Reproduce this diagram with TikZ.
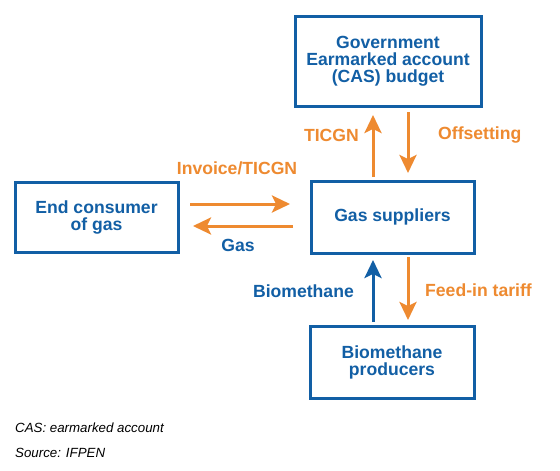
\documentclass[tikz,border=0pt]{standalone}
\usepackage{fontspec}
\setmainfont{Liberation Sans}
\usetikzlibrary{arrows.meta}
\definecolor{cblue}{RGB}{18,95,165}
\definecolor{corange}{RGB}{238,138,48}
\begin{document}
\begin{tikzpicture}[x=1pt,y=-1pt,
  box/.style={draw=cblue,line width=3pt,text=cblue,align=center,
    font=\fontsize{17.6}{17}\selectfont\bfseries,inner sep=0pt},
  lbl/.style={font=\fontsize{17.6}{18}\selectfont\bfseries,inner sep=0pt},
  olbl/.style={lbl,text=corange},
  blbl/.style={lbl,text=cblue},
  note/.style={font=\fontsize{13.3}{14}\selectfont\itshape,inner sep=0pt,anchor=west},
  tip/.style={-{Stealth[width=17pt,length=18pt,inset=4pt]}},
  oarr/.style={draw=corange,line width=3pt,tip},
  barr/.style={draw=cblue,line width=3pt,tip}]
\useasboundingbox[fill=white] (0,0) rectangle (560,471);

\node[box,minimum width=186pt,minimum height=90pt] (gov) at (388,61)
  {Government\\Earmarked account\\(CAS) budget};
\node[box,minimum width=163pt,minimum height=70pt] (cons) at (96.5,217)
  {End consumer\\of gas};
\node[box,minimum width=163pt,minimum height=72pt] (sup) at (392.5,217)
  {Gas suppliers};
\node[box,minimum width=164pt,minimum height=72pt] (bio) at (392,362)
  {Biomethane\\producers};

% horizontal arrows
\draw[oarr,shorten <=10.5pt,shorten >=19.5pt]
  ([yshift=13pt]cons.east) -- ([yshift=13pt]sup.west);
\draw[oarr,shorten <=16.5pt,shorten >=13.5pt]
  ([yshift=-9pt]sup.west) -- ([yshift=-9pt]cons.east);
% suppliers <-> government
\draw[oarr,shorten <=2.5pt,shorten >=7.5pt]
  ([xshift=-19.5pt]sup.north) -- ([xshift=-15pt]gov.south);
\draw[oarr,shorten <=4.5pt,shorten >=6.5pt]
  ([xshift=20pt]gov.south) -- ([xshift=15.5pt]sup.north);
% suppliers <-> producers
\draw[barr,shorten <=2.5pt,shorten >=5.5pt]
  ([xshift=-19pt]bio.north) -- ([xshift=-19.5pt]sup.south);
\draw[oarr,shorten <=2.5pt,shorten >=4.5pt]
  ([xshift=15.5pt]sup.south) -- ([xshift=16pt]bio.north);

\node[olbl] (inv) at (237,168) {Invoice/TICGN};
\node[blbl] (gaslbl) at (238,245) {Gas};
\node[olbl,anchor=east] (ticgn) at (359,135) {TICGN};
\node[olbl,anchor=west] (offs) at (438,135) {Offsetting};
\node[blbl,anchor=east] (biolbl) at (354,291) {Biomethane};
\node[olbl,anchor=west] (feed) at (425,290) {Feed-in tariff};

\node[note] (n1) at (15,428) {CAS: earmarked account};
\node[note] (n2) at (15,453) {Source: IFPEN};
\end{tikzpicture}
\end{document}
